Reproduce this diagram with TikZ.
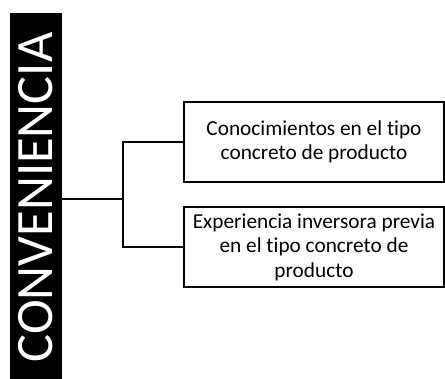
\documentclass[tikz,border=0pt]{standalone}
\usepackage{fontspec}
\setmainfont{Carlito}[Ligatures=NoCommon]
\begin{document}
\begin{tikzpicture}[x=1pt,y=1pt,
  itembox/.style={draw=black,line width=2pt,fill=white,minimum width=260pt,minimum height=80pt,
    align=center,inner sep=0pt,font=\fontsize{21.3}{24.5}\selectfont},
  conn/.style={draw=black,line width=2pt}]
\useasboundingbox (0,0) rectangle (445,-378);
\node[fill=black,minimum width=52pt,minimum height=368pt,inner sep=0pt] (conv) at (36,-197) {};
\node[rotate=90,text=white,font=\fontsize{52.5}{60}\selectfont,inner sep=0pt] (convt) at (36,-197.5) {CONVENIENCIA};
\node[itembox] (b1) at (314,-142) {Conocimientos en el tipo\\concreto de producto};
\node[itembox] (b2) at (314,-247) {Experiencia inversora previa\\en el tipo concreto de\\producto};
\coordinate (j) at (123,-199);
\draw[conn] (conv.east |- j) -- (j);
\draw[conn] (b1.west) -| (j) |- (b2.west);
\end{tikzpicture}
\end{document}
